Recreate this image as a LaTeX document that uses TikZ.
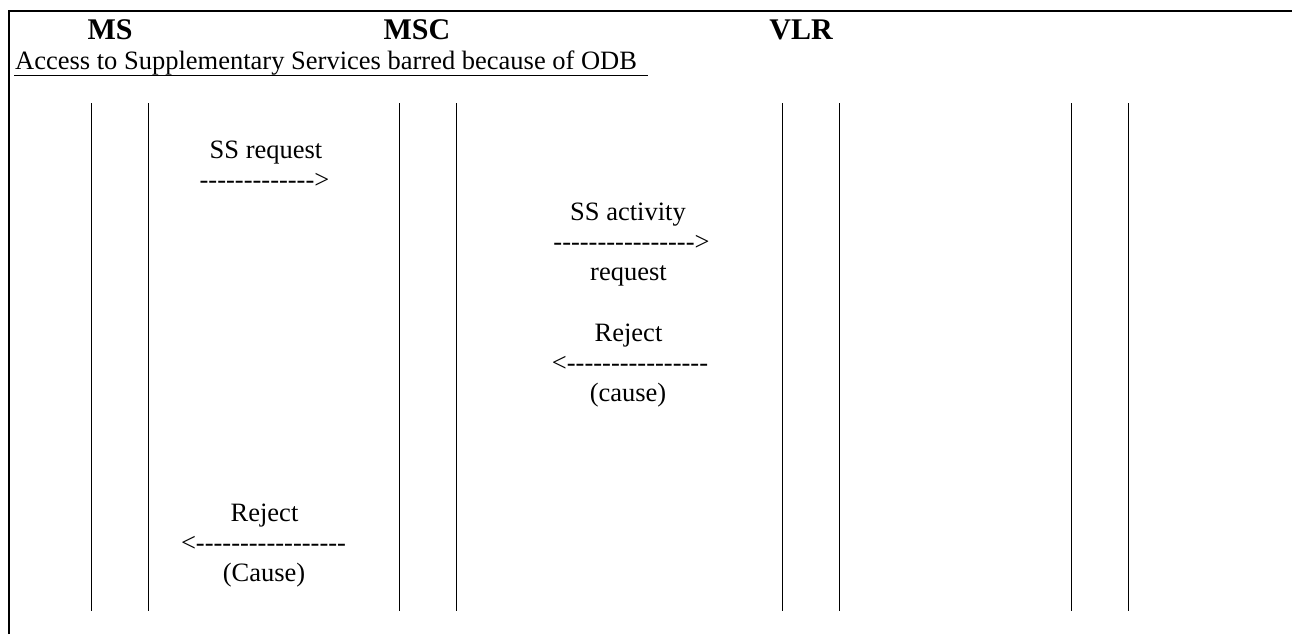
\documentclass[tikz,border=0pt]{standalone}
\usepackage{fontspec}
\setmainfont{Liberation Serif}
\newcommand\dashrow[1]{\foreach\k in {1,...,#1}{-\kern0pt}}
\begin{document}
\begin{tikzpicture}[x=1pt,y=-1pt,
  txt/.style={inner sep=0pt,anchor=base,font=\fontsize{26.5}{30}\selectfont},
  hdr/.style={inner sep=0pt,anchor=base,font=\fontsize{30}{34}\selectfont\bfseries},
  lifeline/.style={line width=0.9pt},
  frameline/.style={line width=2.2pt}]
\useasboundingbox (0,0) rectangle (1292,634);
\draw[frameline] (9,634) -- (9,11) -- (1292,11);
% headers
\node[hdr] (ms)  at (110,40) {MS};
\node[hdr] (msc) at (417,40) {MSC};
\node[hdr] (vlr) at (801,40) {VLR};
\node[txt,anchor=base west] (title) at (15,70) {Access to Supplementary Services barred because of ODB};
\draw[line width=1.3pt] ([xshift=-1pt,yshift=-5.5pt]title.base west) -- ([yshift=-5.5pt]title.base west -| 648,0);
% lifelines
\foreach \x in {91,148,399,456,782,839,1071,1128}
  \draw[lifeline] (\x,103) -- (\x,611);
% messages
\node[txt] (m1a) at (266,158) {SS request};
\node[txt] (m1b) at (264.5,188) {\dashrow{13}>};
\node[txt] (m2a) at (628,220.5) {SS activity};
\node[txt] (m2b) at (631.5,250.5) {\dashrow{16}>};
\node[txt] (m2c) at (628.5,280.5) {request};
\node[txt] (m3a) at (628.5,341.5) {Reject};
\node[txt] (m3b) at (630,371.5) {<\dashrow{16}};
\node[txt] (m3c) at (628,401.5) {(cause)};
\node[txt] (m4a) at (264.5,521) {Reject};
\node[txt] (m4b) at (263.5,551) {<\dashrow{17}};
\node[txt] (m4c) at (264,581) {(Cause)};
\end{tikzpicture}
\end{document}
